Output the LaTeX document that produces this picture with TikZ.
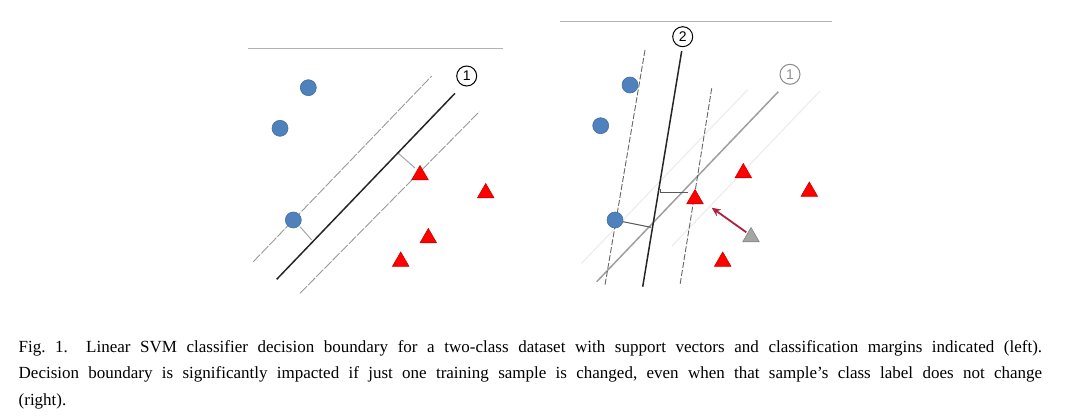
\documentclass[tikz,border=0pt]{standalone}
\usepackage{fontspec}
\setmainfont{Liberation Serif}
\setsansfont{Liberation Sans}
\usetikzlibrary{shapes.geometric,arrows.meta}
\definecolor{ptblue}{HTML}{4F81BD}
\definecolor{ptblueedge}{HTML}{41719C}
\definecolor{ptred}{HTML}{FF0000}
\definecolor{ptrededge}{HTML}{D00000}
\definecolor{ptgray}{HTML}{A5A5A5}
\definecolor{arrowred}{HTML}{B0203A}
\tikzset{
  bluept/.style={circle,fill=ptblue,draw=ptblueedge,line width=0.3pt,minimum size=8pt,inner sep=0pt},
  redpt/.style={regular polygon,regular polygon sides=3,fill=ptred,draw=ptrededge,line width=0.3pt,minimum size=9.5pt,inner sep=0pt},
  graypt/.style={regular polygon,regular polygon sides=3,fill=ptgray,draw=ptgray!80!black,line width=0.3pt,minimum size=9.5pt,inner sep=0pt},
  boundary/.style={draw=black!85,line width=0.75pt},
  oldboundary/.style={draw=black!38,line width=0.75pt},
  softmargin/.style={draw=black!40,line width=0.45pt,dash pattern=on 5pt off 0.8pt},
  hardmargin/.style={draw=black!60,line width=0.45pt,dash pattern=on 3pt off 1pt},
  faintmargin/.style={draw=black!7,line width=0.6pt},
  perpline/.style={draw=black!35,line width=0.5pt},
  perpdark/.style={draw=black!65,line width=0.5pt},
  rule/.style={draw=black!30,line width=0.5pt},
  lbl/.style={circle,draw=black,line width=0.5pt,minimum size=10pt,inner sep=0pt,font=\sffamily\fontsize{7}{7}\selectfont},
  oldlbl/.style={lbl,draw=black!45,text=black!45},
  moveline/.style={draw=arrowred,line width=0.9pt,-{Stealth[length=4.5pt,width=4pt]}}
}
\begin{document}
\begin{tikzpicture}[x=0.5pt,y=-0.5pt]
\useasboundingbox (0,0) rectangle (1080,417);
% ---------------- left panel ----------------
\coordinate (tlA) at (248,49); \coordinate (tlB) at (503,49);
\draw[rule] (tlA) -- (tlB);
\coordinate (bA) at (276.7,279.3); \coordinate (bB) at (455,93.3);
\coordinate (mA) at (253.3,261.7); \coordinate (mB) at (431.7,76);
\coordinate (mC) at (300,293.3); \coordinate (mD) at (479.3,111.7);
\draw[softmargin] (mA) -- (mB);
\draw[softmargin] (mC) -- (mD);
\coordinate (p1a) at (398.3,153.3); \coordinate (p1b) at (415,168);
\coordinate (p2a) at (300,226.7); \coordinate (p2b) at (311.7,240);
\draw[perpline] (p1a) -- (p1b);
\draw[perpline] (p2a) -- (p2b);
\draw[boundary] (bA) -- (bB);
\node[lbl] (labL1) at (466.7,76) {1};
\node[bluept] (lb1) at (308.3,87.7) {};
\node[bluept] (lb2) at (280,128.3) {};
\node[bluept] (lb3) at (293.3,220) {};
\node[redpt] (lr1) at (420,175) {};
\node[redpt] (lr2) at (485.7,193) {};
\node[redpt] (lr3) at (428.3,238) {};
\node[redpt] (lr4) at (400.7,261.5) {};
% ---------------- right panel ----------------
\coordinate (trA) at (560,22); \coordinate (trB) at (832,22);
\draw[rule] (trA) -- (trB);
\coordinate (fA) at (581.5,263.4); \coordinate (fB) at (747.4,89.9);
\coordinate (fC) at (672,246); \coordinate (fD) at (820,91);
\draw[faintmargin] (fA) -- (fB);
\draw[faintmargin] (fC) -- (fD);
\coordinate (oA) at (596.7,281.7); \coordinate (oB) at (778.3,91.7);
\draw[oldboundary] (oA) -- (oB);
\coordinate (nA) at (681.7,51); \coordinate (nB) at (642.7,286.7);
\coordinate (dA) at (645,50); \coordinate (dB) at (605,285);
\coordinate (dC) at (711.7,88.3); \coordinate (dD) at (680,285);
\draw[hardmargin] (dA) -- (dB);
\draw[hardmargin] (dC) -- (dD);
\coordinate (q1a) at (622,221.5); \coordinate (q1b) at (651,227.3);
\coordinate (q2a) at (688,192.7); \coordinate (q2b) at (660,192.7);
\coordinate (q2c) at (660,188.5);
\draw[perpdark] (q1a) -- (q1b);
\draw[perpdark] (q2a) -- (q2b) -- (q2c);
\draw[boundary] (nA) -- (nB);
\node[lbl] (labR2) at (682.7,36.7) {2};
\node[oldlbl] (labR1) at (790,74.3) {1};
\node[bluept] (rb1) at (630,85) {};
\node[bluept] (rb2) at (600.7,125.7) {};
\node[bluept] (rb3) at (615,220) {};
\node[redpt] (rr1) at (743.3,173) {};
\node[redpt] (rr2) at (809.3,191.5) {};
\node[redpt] (rr3) at (695,199) {};
\node[redpt] (rr4) at (722.7,261.5) {};
\node[graypt] (rg) at (751,237) {};
\coordinate (arrEnd) at (711.7,207.7);
\draw[moveline] (rg.north west) ++(-1,-1) coordinate (arrStart) (arrStart) -- (arrEnd);
% ---------------- caption ----------------
\node[anchor=base west,inner sep=0pt] (caption) at (18.3,352) {\parbox[t]{511.7pt}{\fontsize{8.5}{13.25}\selectfont\frenchspacing
\makebox[511.7pt][s]{Fig.~1.\hspace{0.5em} Linear SVM classifier decision boundary for a two-class dataset with support vectors and classification margins indicated (left).}\\
\makebox[511.7pt][s]{Decision boundary is significantly impacted if just one training sample is changed, even when that sample’s class label does not change}\\
(right).}};
\end{tikzpicture}
\end{document}
